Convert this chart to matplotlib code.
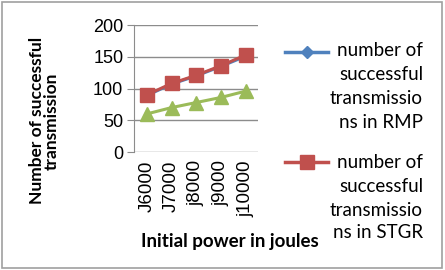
import matplotlib
matplotlib.use("Agg")
import matplotlib.pyplot as plt
from matplotlib.lines import Line2D
from matplotlib.patches import Rectangle

categories = ["J6000", "J7000", "j8000", "j9000", "j10000"]
rmp = [89, 107, 120, 135, 151]
stgr = [90, 108, 121, 136, 153]
third = [60, 70, 78, 86, 96]
rmp_label = ["number of", "successful", "transmissio", "ns in RMP"]
stgr_label = ["number of", "successful", "transmissio", "ns in STGR"]

BLUE = "#4F81BD"
RED = "#C0504D"
GREEN = "#9BBB59"
GRID = "#8C8C8C"
W, H = 445, 270

fig = plt.figure(figsize=(W / 100, H / 100), dpi=100)
fig.patches.append(Rectangle((0.004, 0.006), 0.99, 0.987, transform=fig.transFigure,
                             fill=False, ec="#A0A0A0", lw=1.2))

ax = fig.add_axes([0.302, 0.437, 0.278, 0.470])
x = list(range(len(categories)))
ax.plot(x, rmp, color=BLUE, lw=2.2, marker="D", ms=6, zorder=3)
ax.plot(x, stgr, color=RED, lw=2.2, marker="s", ms=9.5, zorder=4)
ax.plot(x, third, color=GREEN, lw=2.2, marker="^", ms=10, zorder=4)

ax.set_xlim(-0.5, len(categories) - 0.5)
ax.set_ylim(0, 200)
ax.set_yticks([0, 50, 100, 150, 200])
ax.set_xticks(x)
ax.set_xticklabels(categories, rotation=90, fontsize=13.5, family="Liberation Sans")
for lab in ax.get_yticklabels():
    lab.set_fontsize(13)
    lab.set_family("Liberation Sans")
ax.grid(axis="y", color=GRID, lw=1)
ax.set_axisbelow(True)
for side in ["top", "right", "bottom"]:
    ax.spines[side].set_visible(False)
ax.spines["left"].set_color(GRID)
ax.tick_params(axis="y", length=5, color=GRID, pad=3)
ax.tick_params(axis="x", length=0, pad=6)

ax.set_ylabel("Number of successful\ntransmission", fontsize=12.5, fontweight="bold",
              family="Lato", linespacing=0.95)
ax.yaxis.set_label_coords(-0.60, 0.245)
fig.text(0.517, 0.104, "Initial power in joules", fontsize=13.5, fontweight="bold",
         family="Lato", ha="center", va="center")

# legend
entries = [(52, BLUE, "D", 6, rmp_label, [50, 74, 98, 121]),
           (162, RED, "s", 9.5, stgr_label, [162, 185, 209, 232])]
for y_px, color, marker, ms, lines, rows in entries:
    y_fig = 1 - y_px / H
    fig.add_artist(Line2D([285 / W, 328 / W], [y_fig, y_fig], transform=fig.transFigure,
                          color=color, lw=2.5))
    fig.add_artist(Line2D([307 / W], [y_fig], transform=fig.transFigure,
                          color=color, marker=marker, ms=ms, lw=0))
    for text, row in zip(lines, rows):
        fig.text(423 / W, 1 - (row + 6.5) / H, text, fontsize=13.5, family="Lato",
                 ha="right", va="baseline")

fig.savefig("out.png", dpi=100)
